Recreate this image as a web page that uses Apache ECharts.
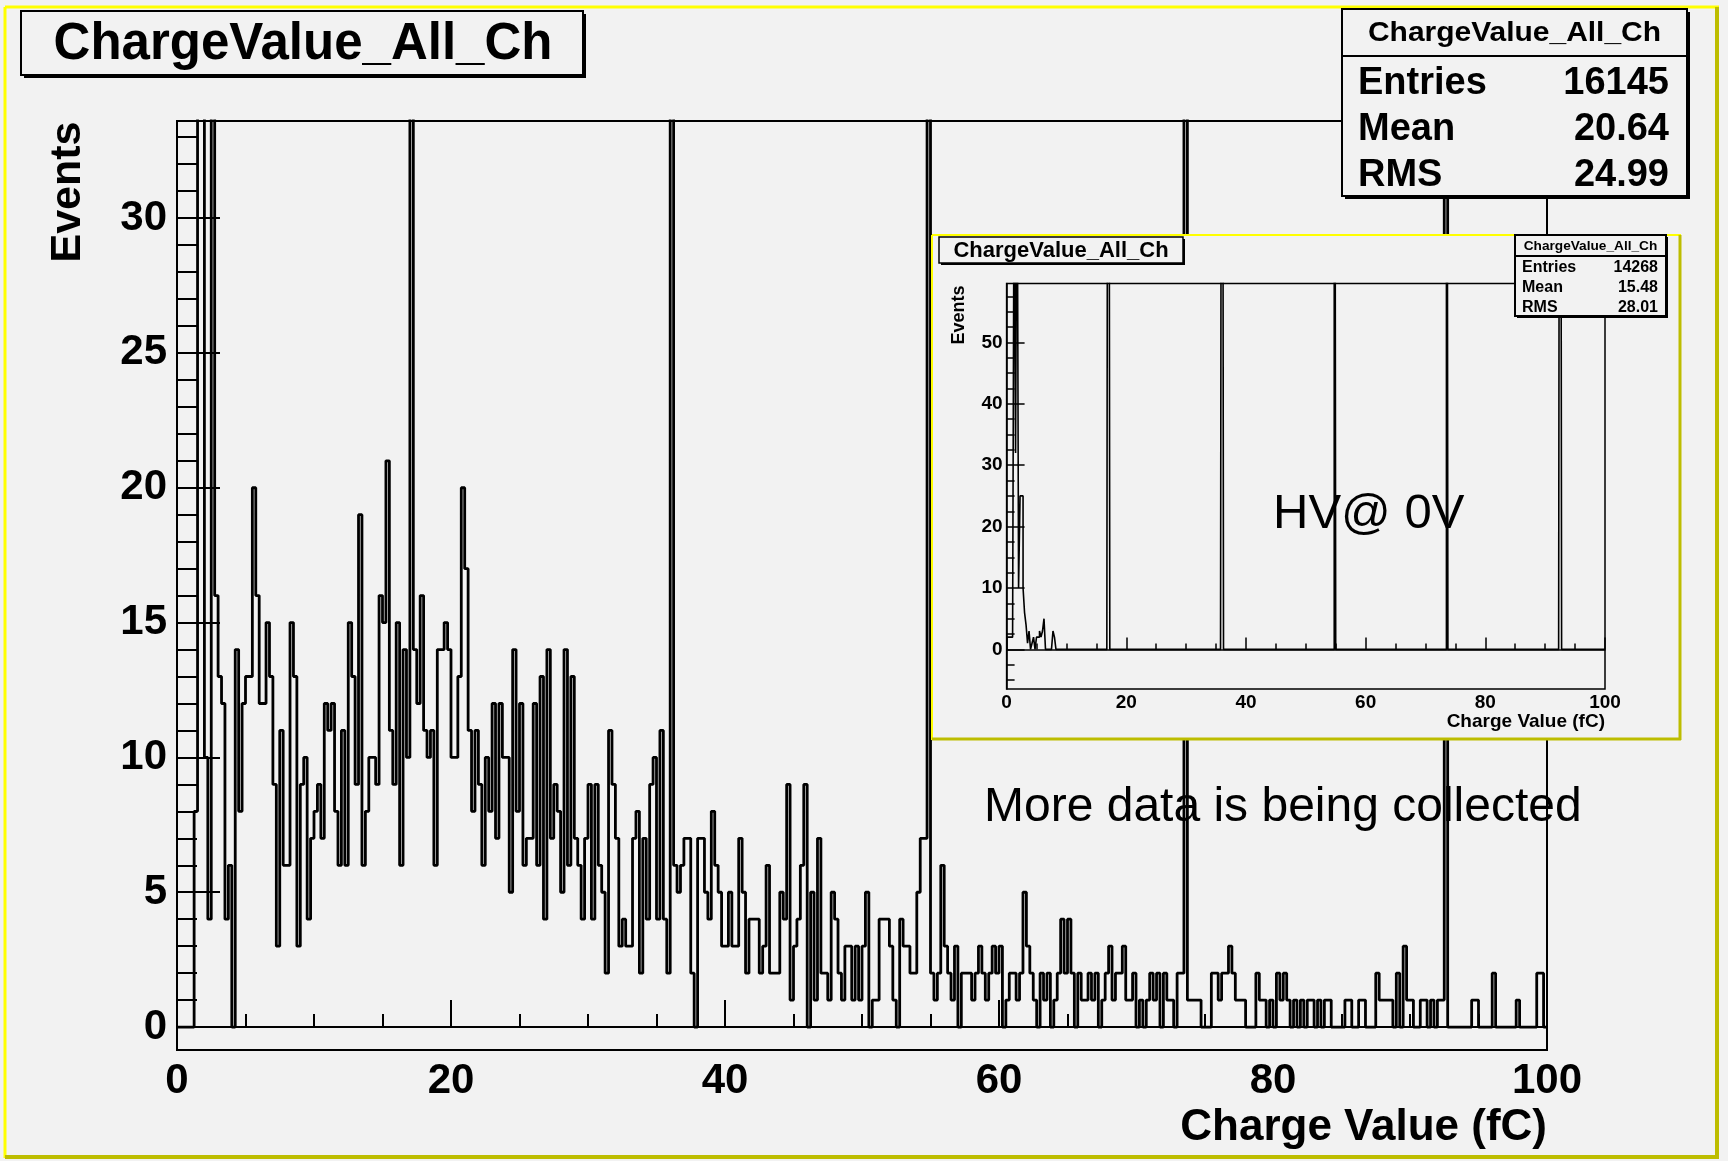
<!DOCTYPE html>
<html>
<head>
<meta charset="utf-8">
<title>ChargeValue_All_Ch</title>
<script src="https://cdn.jsdelivr.net/npm/echarts@6.0.0/dist/echarts.min.js"></script>
<style>
  html, body { margin: 0; padding: 0; background: #f2f2f2; }
  #chart { width: 1728px; height: 1161px; }
</style>
</head>
<body>
<div id="chart"></div>
<script>
// bin width of both histograms, fC
const binWidth = 0.25;

// main histogram: 400 bins from 0 to 100 fC (100 = runs off the top)
const mainCounts = [
  0,0,0,0,0,8,45,45,10,4,50,16,13,12,4,6,0,14,8,12,
  13,13,20,16,12,12,15,13,9,3,11,6,6,15,13,3,9,10,4,7,
  8,9,7,12,11,12,8,6,11,6,15,13,9,19,6,8,10,10,9,16,
  15,21,11,9,15,6,14,10,100,14,12,16,11,10,11,6,14,14,15,14,
  10,10,13,20,17,11,8,11,9,6,10,8,12,7,12,10,10,5,14,8,
  12,6,7,7,12,6,13,4,14,7,9,8,5,14,6,13,7,6,4,7,
  9,4,9,6,5,2,11,9,7,3,4,3,3,7,8,2,7,4,9,10,
  4,11,4,2,100,6,5,6,7,7,2,0,7,7,5,4,8,6,5,3,
  3,5,3,3,7,5,2,4,4,4,2,3,6,2,2,2,5,4,9,1,
  3,4,6,9,0,5,1,7,2,2,1,5,4,2,1,3,3,1,3,1,
  3,5,0,1,1,4,4,4,3,1,0,4,3,3,2,2,5,7,7,100,
  2,1,2,6,3,2,1,3,0,2,2,2,1,2,3,2,1,2,3,2,
  3,0,1,2,2,1,2,5,3,2,1,0,2,1,2,0,1,2,4,2,
  4,2,0,2,1,1,2,1,2,0,1,2,3,1,2,2,3,1,1,2,
  0,1,0,1,2,1,2,0,2,1,1,0,2,2,100,1,1,1,1,0,
  0,0,2,2,1,2,2,3,2,1,1,1,0,0,0,2,1,1,0,1,
  0,2,1,2,1,0,1,0,1,0,1,1,0,1,0,1,1,0,0,0,
  0,1,1,0,0,1,1,0,0,0,2,1,1,1,1,0,2,0,3,1,
  1,0,0,1,1,0,1,0,1,1,100,0,0,0,0,0,0,0,1,1,
  0,0,0,0,2,0,0,0,0,0,0,1,0,0,0,0,0,2,2,0
];

// inset (HV @ 0V): counts of the first bins, later bins are empty
const insetCounts = [
  2,2,2,2,2,80,32,90,10,25,25,10,6,4,1,3,0,1,2,0,
  2,2,3,2,3,5,0,0,0,0,0,3,2,0
];
// narrow bins that run off the top in the inset too
const insetSpikeBins = [68, 144, 219, 294, 370];
const insetSpikeCount = 200;

// axis ticks
const mainYMajor = [0, 5, 10, 15, 20, 25, 30];
const mainYMinor = [0,1,2,3,4,5,6,7,8,9,10,11,12,13,14,15,16,17,18,19,20,21,22,23,24,25,26,27,28,29,30,31,32,33];
const insetYMajor = [0, 10, 20, 30, 40, 50];
const insetYMinor = [-5,-2.5,0,2.5,5,7.5,10,12.5,15,17.5,20,22.5,25,27.5,30,32.5,35,37.5,40,42.5,45,47.5,50,52.5,55,57.5];

// stats boxes
const statNames = ['Entries', 'Mean', 'RMS'];
const mainStats = ['16145', '20.64', '24.99'];
const insetStats = ['14268', '15.48', '28.01'];
const histName = 'ChargeValue_All_Ch';

const FONT = '"Liberation Sans", Arial, Helvetica, sans-serif';

// bins -> step points (left edge of every bin + right end)
function steps(counts) {
  const pts = counts.map((c, i) => [i * binWidth, c]);
  pts.push([counts.length * binWidth, counts[counts.length - 1]]);
  return pts;
}

const insetAll = mainCounts.map((c, i) => (i < insetCounts.length ? insetCounts[i] : 0));
insetSpikeBins.forEach(b => { insetAll[b] = insetSpikeCount; });

// small helpers for the ROOT style boxes and texts
function line(x1, y1, x2, y2, color, w, z) {
  return { type: 'line', z: z, silent: true, shape: { x1, y1, x2, y2 }, style: { stroke: color, lineWidth: w } };
}
function shadowBox(x, y, w, h, s, lw, z) {
  return [
    { type: 'rect', z: z, silent: true, shape: { x: x + s, y: y + s, width: w, height: h }, style: { fill: '#000' } },
    { type: 'rect', z: z, silent: true, shape: { x, y, width: w, height: h }, style: { fill: '#f2f2f2', stroke: '#000', lineWidth: lw } }
  ];
}
function txt(text, x, y, size, weight, align, z, extra) {
  return Object.assign({
    type: 'text', z: z, silent: true, x: x, y: y,
    style: { text: text, fill: '#000', font: weight + ' ' + size + 'px ' + FONT, textAlign: align, textVerticalAlign: 'middle' }
  }, extra || {});
}
function statsBox(x, y, w, h, divY, s, headSize, headScale, rowSize, rowYs, labelX, valueX, values, z) {
  let els = shadowBox(x, y, w, h, s, 2, z);
  els.push(line(x, divY, x + w, divY, '#000', 2, z));
  els.push(txt(histName, x + w / 2, (y + divY) / 2 + 1, headSize, 'bold', 'center', z, { scaleX: headScale }));
  statNames.forEach((n, i) => {
    els.push(txt(n, labelX, rowYs[i], rowSize, 'bold', 'left', z));
    els.push(txt(values[i], valueX, rowYs[i], rowSize, 'bold', 'right', z));
  });
  return els;
}

let graphics = [];
// pad border: yellow top/left, olive bottom/right
graphics.push(line(5, 7, 1719, 7, '#ffff00', 3, 1));
graphics.push(line(5, 7, 5, 1158, '#ffff00', 3, 1));
graphics.push(line(1717, 7, 1717, 1158, '#bdbd00', 4, 1));
graphics.push(line(5, 1157, 1719, 1157, '#bdbd00', 4, 1));

// main pad texts
graphics.push(txt('Events', 68, 192, 43, 'bold', 'center', 3, { rotation: Math.PI / 2 }));
graphics.push(txt('Charge Value (fC)', 1547, 1128, 44, 'bold', 'right', 3));
graphics.push(txt('More data is being collected', 984, 808, 48, 'normal', 'left', 3));
graphics = graphics.concat(shadowBox(21, 11, 562, 64, 3, 2, 10));
graphics.push(txt(histName, 303, 45, 51, 'bold', 'center', 10));
graphics = graphics.concat(statsBox(1342, 9, 345, 187, 56, 3, 28, 1.07, 38, [84, 130, 176], 1358, 1669, mainStats, 10));

// inset pad
graphics.push({ type: 'rect', z: 5, silent: true, shape: { x: 932, y: 235, width: 749, height: 505 }, style: { fill: '#f2f2f2' } });
graphics.push(line(932, 235, 1681, 235, '#ffff00', 2, 5));
graphics.push(line(932, 235, 932, 740, '#ffff00', 2, 5));
graphics.push(line(1680, 235, 1680, 740, '#bdbd00', 3, 5));
graphics.push(line(932, 739, 1681, 739, '#bdbd00', 3, 5));
graphics.push(txt('Events', 959, 315, 18, 'bold', 'center', 8, { rotation: Math.PI / 2 }));
graphics.push(txt('Charge Value (fC)', 1605, 722, 19, 'bold', 'right', 8));
graphics.push(txt('HV@ 0V', 1273, 514, 49, 'normal', 'left', 8));
graphics = graphics.concat(shadowBox(939, 237, 244, 26, 2, 1.5, 9));
graphics.push(txt(histName, 1061, 251, 22, 'bold', 'center', 9));
graphics = graphics.concat(statsBox(1515, 235, 151, 81, 256, 2, 13, 1.05, 16, [268, 288, 308], 1522, 1658, insetStats, 9));

const tickStyle = (w) => ({ color: '#000', width: w });

const chart = echarts.init(document.getElementById('chart'));
chart.setOption({
  backgroundColor: '#f2f2f2',
  animation: false,
  grid: [
    { left: 177, top: 121, width: 1370, height: 929, show: true, borderColor: '#000', borderWidth: 2, backgroundColor: 'transparent' },
    { left: 1006.6, top: 283.5, width: 598.4, height: 405.5, show: true, borderColor: '#000', borderWidth: 1.5, backgroundColor: 'transparent', z: 6 }
  ],
  xAxis: [
    {
      gridIndex: 0, type: 'value', min: 0, max: 100, interval: 20,
      axisLine: { lineStyle: tickStyle(2) },
      axisTick: { inside: true, length: 27, lineStyle: tickStyle(2) },
      minorTick: { show: true, splitNumber: 4, length: 13, lineStyle: tickStyle(2) },
      axisLabel: { color: '#000', fontSize: 42, fontWeight: 'bold', fontFamily: FONT, margin: 10, showMinLabel: true, showMaxLabel: true },
      splitLine: { show: false }
    },
    {
      gridIndex: 1, type: 'value', min: 0, max: 100, interval: 20, z: 6,
      axisLine: { lineStyle: tickStyle(1.5) },
      axisTick: { inside: true, length: 12, lineStyle: tickStyle(1.5) },
      minorTick: { show: true, splitNumber: 4, length: 6, lineStyle: tickStyle(1.5) },
      axisLabel: { color: '#000', fontSize: 19, fontWeight: 'bold', fontFamily: FONT, margin: 4, showMinLabel: true, showMaxLabel: true },
      splitLine: { show: false }
    }
  ],
  yAxis: [
    {
      gridIndex: 0, type: 'value', position: 'left', min: -0.85, max: 33.6,
      axisLine: { show: true, lineStyle: tickStyle(2) },
      axisTick: { inside: true, length: 43, customValues: mainYMajor, lineStyle: tickStyle(2) },
      axisLabel: { customValues: mainYMajor, color: '#000', fontSize: 42, fontWeight: 'bold', fontFamily: FONT, margin: 10 },
      splitLine: { show: false }
    },
    {
      gridIndex: 0, type: 'value', position: 'left', min: -0.85, max: 33.6,
      axisLine: { show: false },
      axisTick: { inside: true, length: 20, customValues: mainYMinor, lineStyle: tickStyle(2) },
      axisLabel: { show: false },
      splitLine: { show: false }
    },
    {
      gridIndex: 1, type: 'value', position: 'left', min: -6.45, max: 59.6, z: 6,
      axisLine: { show: true, lineStyle: tickStyle(1.5) },
      axisTick: { inside: true, length: 18, customValues: insetYMajor, lineStyle: tickStyle(1.5) },
      axisLabel: { customValues: insetYMajor, color: '#000', fontSize: 19, fontWeight: 'bold', fontFamily: FONT, margin: 4 },
      splitLine: { show: false }
    },
    {
      gridIndex: 1, type: 'value', position: 'left', min: -6.45, max: 59.6, z: 6,
      axisLine: { show: false },
      axisTick: { inside: true, length: 8, customValues: insetYMinor, lineStyle: tickStyle(1.5) },
      axisLabel: { show: false },
      splitLine: { show: false }
    }
  ],
  series: [
    {
      name: 'main', type: 'line', xAxisIndex: 0, yAxisIndex: 0, step: 'end',
      symbol: 'none', z: 2, data: steps(mainCounts),
      lineStyle: { color: '#000', width: 2.8 }
    },
    {
      name: 'inset', type: 'line', xAxisIndex: 1, yAxisIndex: 2, step: 'end',
      symbol: 'none', z: 7, data: steps(insetAll),
      lineStyle: { color: '#000', width: 1.6 }
    }
  ],
  graphic: { elements: graphics }
});
</script>
</body>
</html>
